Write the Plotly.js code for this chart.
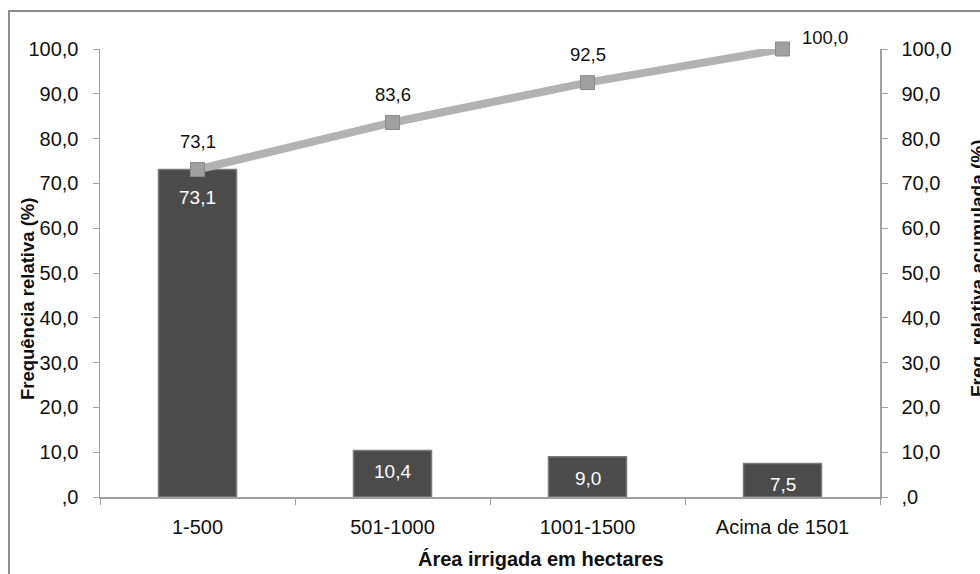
<!DOCTYPE html>
<html>
<head>
<meta charset="utf-8">
<script src="https://cdn.plot.ly/plotly-3.0.1.min.js"></script>
<style>
  html, body { margin: 0; padding: 0; background: #ffffff; }
  #chart { width: 980px; height: 574px; }
</style>
</head>
<body>
<div id="chart"></div>
<script>
// Irrigated area classes (hectares)
const categories = ['1-500', '501-1000', '1001-1500', 'Acima de 1501'];
// Relative frequency (%) per class
const relFreq = [73.1, 10.4, 9.0, 7.5];
// Cumulative relative frequency (%)
const cumFreq = [73.1, 83.6, 92.5, 100.0];
// Shared tick values and labels for both y axes
const yTickVals = [0, 10, 20, 30, 40, 50, 60, 70, 80, 90, 100];
const yTickText = [',0', '10,0', '20,0', '30,0', '40,0', '50,0', '60,0', '70,0', '80,0', '90,0', '100,0'];

const fmt = v => v.toFixed(1).replace('.', ',');

const font = 'Liberation Sans, Arial, sans-serif';

const bars = {
  type: 'bar',
  x: categories,
  y: relFreq,
  marker: { color: '#4b4b4b', line: { color: '#7a7a7a', width: 1.5 } },
  hoverinfo: 'skip',
  showlegend: false
};

const line = {
  type: 'scatter',
  mode: 'lines+markers',
  x: categories,
  y: cumFreq,
  yaxis: 'y2',
  line: { color: '#b2b2b2', width: 8 },
  marker: { symbol: 'square', size: 14, color: '#a0a0a0', line: { color: '#8a8a8a', width: 1 } },
  cliponaxis: false,
  hoverinfo: 'skip',
  showlegend: false
};

const annotations = [];

// White value labels inside the top of each bar
relFreq.forEach((v, i) => {
  annotations.push({
    x: categories[i], y: v, xref: 'x', yref: 'y',
    text: fmt(v), showarrow: false,
    yanchor: 'top', yshift: i === 0 ? -15 : -9,
    font: { family: font, size: 19, color: '#ffffff' }
  });
});

// Cumulative labels above each marker
cumFreq.forEach((v, i) => {
  const last = i === cumFreq.length - 1;
  annotations.push({
    x: categories[i], y: v, xref: 'x', yref: 'y2',
    text: fmt(v), showarrow: false,
    xanchor: last ? 'left' : 'center',
    yanchor: 'middle',
    xshift: last ? 17 : 0,
    yshift: last ? 12 : 28,
    font: { family: font, size: 18.5, color: '#111111' }
  });
});

// Axis titles
annotations.push({
  xref: 'paper', yref: 'paper', x: -0.0936, y: 0.444,
  text: 'Frequência relativa (%)', textangle: -90, showarrow: false,
  xanchor: 'center', yanchor: 'middle',
  font: { family: font, size: 18.5, color: '#111111', weight: 'bold' }
});
annotations.push({
  xref: 'paper', yref: 'paper', x: 1.1244, y: 0.511,
  text: 'Freq. relativa acumulada (%)', textangle: -90, showarrow: false,
  xanchor: 'center', yanchor: 'middle',
  font: { family: font, size: 19, color: '#111111', weight: 'bold' }
});
annotations.push({
  xref: 'paper', yref: 'paper', x: 0.565, y: -0.138,
  text: 'Área irrigada em hectares', showarrow: false,
  xanchor: 'center', yanchor: 'middle',
  font: { family: font, size: 20, color: '#111111', weight: 'bold' }
});

const yAxisCommon = {
  range: [0, 100],
  tickmode: 'array',
  tickvals: yTickVals,
  ticktext: yTickText,
  ticks: 'outside',
  ticklen: 6,
  tickcolor: '#a0a0a0',
  showline: true,
  linecolor: '#a0a0a0',
  linewidth: 1.5,
  showgrid: false,
  zeroline: false,
  fixedrange: true,
  tickfont: { family: font, size: 20, color: '#111111' }
};

const layout = {
  width: 980,
  height: 574,
  margin: { l: 100, r: 100, t: 49, b: 77 },
  paper_bgcolor: '#ffffff',
  plot_bgcolor: '#ffffff',
  bargap: 0.6,
  xaxis: {
    type: 'category',
    tickson: 'boundaries',
    ticks: 'outside',
    ticklen: 6,
    tickcolor: '#a0a0a0',
    showline: true,
    linecolor: '#a0a0a0',
    linewidth: 1.5,
    showgrid: false,
    fixedrange: true,
    ticklabelstandoff: 11,
    tickfont: { family: font, size: 20, color: '#111111' }
  },
  yaxis: Object.assign({}, yAxisCommon, { side: 'left', ticklabelstandoff: 10 }),
  yaxis2: Object.assign({}, yAxisCommon, { side: 'right', overlaying: 'y', ticklabelstandoff: 10 }),
  annotations: annotations,
  shapes: [{
    type: 'rect', xref: 'paper', yref: 'paper',
    x0: -0.1167, x1: 1.14, y0: -0.19, y1: 1.0848,
    line: { color: '#8c8c8c', width: 2 },
    fillcolor: 'rgba(0,0,0,0)',
    layer: 'below'
  }]
};

Plotly.newPlot('chart', [bars, line], layout, { staticPlot: true, displayModeBar: false });
</script>
</body>
</html>
